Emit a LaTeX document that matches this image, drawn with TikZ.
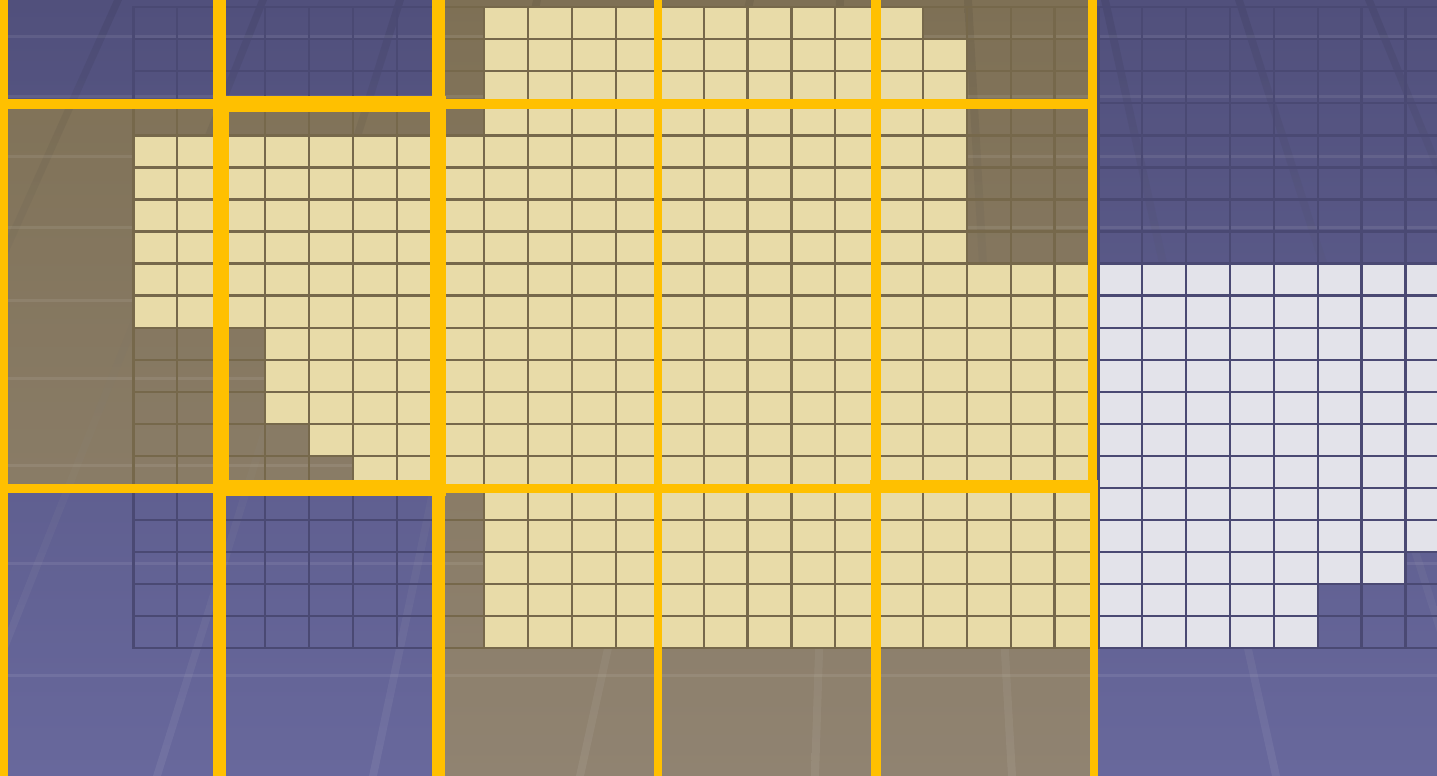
\documentclass[tikz,border=0pt]{standalone}
\definecolor{purpTop}{HTML}{51507C}
\definecolor{purpBot}{HTML}{68689C}
\definecolor{brnTop}{HTML}{7E7055}
\definecolor{brnBot}{HTML}{908371}
\definecolor{beige}{HTML}{E8DBA8}
\definecolor{paleCell}{HTML}{E3E3EA}
\definecolor{gridPurp}{HTML}{4A4973}
\definecolor{gridBrn}{HTML}{76684B}
\definecolor{gold}{HTML}{FFC000}
\tikzset{
  gridline/.style={line width=2.2pt, line cap=rect},
  goldline/.style={draw=gold},
  stripe/.style={top color=black, bottom color=white, fill opacity=0.07},
  band/.style={draw=white, line width=3pt, opacity=0.08},
  gridcoords/.style={shift={(133.5,7.3)}, x=43.86pt, y=-32.03pt},
}
\newcommand\lightregionpath{(8,0) -- (18,0) -- (18,1) -- (19,1) -- (19,8) -- (31,8) -- (31,17) -- (29,17) -- (29,18) -- (27,18) -- (27,20) -- (8,20) -- (8,15) -- (5,15) -- (5,14) -- (4,14) -- (4,13) -- (3,13) -- (3,10) -- (0,10) -- (0,4) -- (8,4) -- cycle}
\newcommand\brownregionclip{\clip (0,104) rectangle (1092,488) (438,-1) rectangle (1092,777);}
\begin{document}
\begin{tikzpicture}[x=1pt,y=-1pt]
\useasboundingbox (0,0) rectangle (1437,776);
\clip (0,0) rectangle (1437,776);
% background
\shade[top color=purpTop, bottom color=purpBot] (0,0) rectangle (1437,776);
\begin{scope}
\brownregionclip
\shade[top color=brnTop, bottom color=brnBot] (0,0) rectangle (1437,776);
\end{scope}
% faint perspective stripes
\foreach \a/\b in {118/-231, 263/-47, 400/157, 537/373, 750/580, 840/815, 968/1012, 1105/1276, 1239/1487, 1369/1687}
  \shade[stripe] (\a-4,0) -- (\a+4,0) -- (\b+4,776) -- (\b-4,776) -- cycle;
\foreach \yy in {37,96,156,227,300,378,465,563,675}
  \draw[band] (0,\yy) -- (1437,\yy);
% light cells and grid (purple part)
\begin{scope}[gridcoords]
\fill[paleCell] \lightregionpath;
\foreach \k in {0,...,30} \draw[gridline, gridPurp] (\k,0) -- (\k,20);
\foreach \r in {0,...,20} \draw[gridline, gridPurp] (0,\r) -- (31,\r);
\end{scope}
% brown part
\begin{scope}
\brownregionclip
\begin{scope}[gridcoords]
\fill[beige] \lightregionpath;
\foreach \k in {0,...,30} \draw[gridline, gridBrn] (\k,0) -- (\k,20);
\foreach \r in {0,...,20} \draw[gridline, gridBrn] (0,\r) -- (31,\r);
\end{scope}
\end{scope}
% yellow tile boundaries
\draw[goldline, line width=10pt] (3,-5) -- (3,781);
\draw[goldline, line width=12.4pt] (219.5,-5) -- (219.5,781);
\draw[goldline, line width=13pt] (438.2,-5) -- (438.2,781);
\draw[goldline, line width=8pt] (658,-5) -- (658,781);
\draw[goldline, line width=10pt] (876,-5) -- (876,781);
\draw[goldline, line width=9pt] (1092.2,-5) -- (1092.2,488);
\draw[goldline, line width=9.5pt] (-5,104.2) -- (1096.7,104.2);
\draw[goldline, line width=9pt] (-5,488.5) -- (1096.7,488.5);
\draw[goldline, line width=16pt] (221,104) rectangle (438.3,488.3);
\draw[goldline, line width=12pt] (870,486.2) -- (1098.4,486.2);
\draw[goldline, line width=8.4pt] (1094.2,480.2) -- (1094.2,781);
\end{tikzpicture}
\end{document}
